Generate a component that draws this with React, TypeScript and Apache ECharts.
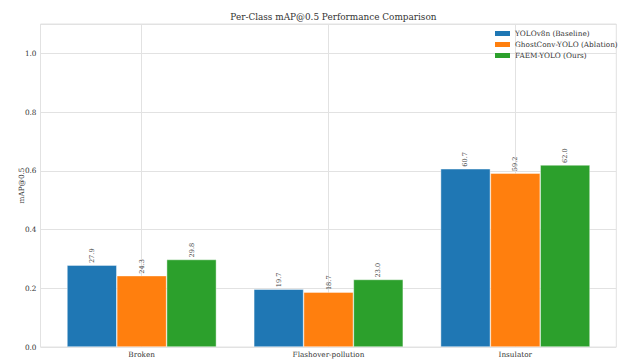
import React, { useEffect, useRef } from "react";
import * as echarts from "echarts";

const categories = ["Broken", "Flashover-pollution", "Insulator"];
const seriesNames = ["YOLOv8n (Baseline)", "GhostConv-YOLO (Ablation)", "FAEM-YOLO (Ours)"];
const baselineValues = [0.279, 0.197, 0.607];
const ghostConvValues = [0.243, 0.187, 0.592];
const faemValues = [0.298, 0.23, 0.62];
const seriesColors = ["#1f77b4", "#ff7f0e", "#2ca02c"];
const yMin = 0;
const yMax = 1.1;
const yInterval = 0.2;

const FONT = "DejaVu Serif";

export default function App() {
  const ref = useRef<HTMLDivElement>(null);
  useEffect(() => {
    if (!ref.current) return;
    const chart = echarts.init(ref.current, null, { renderer: "svg" });
    const allValues = [baselineValues, ghostConvValues, faemValues];
    const gridColor = "#e2e2e2";
    chart.setOption({
      animation: false,
      backgroundColor: "#ffffff",
      textStyle: { fontFamily: FONT },
      title: {
        text: "Per-Class mAP@0.5 Performance Comparison",
        left: 328.4,
        top: 7,
        textAlign: "center",
        textStyle: { fontFamily: FONT, fontSize: 8.9, fontWeight: "normal", color: "#333" },
      },
      legend: {
        orient: "vertical",
        left: 490,
        top: 24,
        itemWidth: 15,
        itemHeight: 5,
        itemGap: 2,
        icon: "rect",
        itemStyle: { borderWidth: 0 },
        textStyle: { fontFamily: FONT, fontSize: 7.3, lineHeight: 9, color: "#333", padding: 0 },
        data: seriesNames,
      },
      grid: [
        {
          left: 40.5,
          top: 24,
          width: 575.8,
          height: 323,
          show: true,
          borderColor: gridColor,
          borderWidth: 1,
          backgroundColor: "transparent",
        },
        { left: 48.3, top: 24, width: 560.4, height: 323 },
      ],
      xAxis: [
        { type: "value", gridIndex: 0, min: 0, max: 1, show: false },
        {
          type: "category",
          gridIndex: 1,
          data: categories,
          axisLine: { show: false },
          axisTick: { show: false },
          axisLabel: { fontFamily: FONT, fontSize: 7.3, color: "#333", margin: 4 },
          splitLine: { show: true, alignWithLabel: true, lineStyle: { color: gridColor, width: 1 } },
        },
      ],
      yAxis: [
        {
          type: "value",
          gridIndex: 0,
          min: yMin,
          max: yMax,
          interval: yInterval,
          name: "mAP@0.5",
          nameLocation: "middle",
          nameGap: 16,
          nameMoveOverlap: false,
          nameTextStyle: { fontFamily: FONT, fontSize: 7.3, color: "#333" },
          axisLine: { show: false },
          axisTick: { show: false },
          axisLabel: {
            fontFamily: FONT,
            fontSize: 7.3,
            color: "#333",
            margin: 4,
            showMaxLabel: false,
            formatter: (v: number) => v.toFixed(1),
          },
          splitLine: { show: true, lineStyle: { color: gridColor, width: 1 } },
        },
        { type: "value", gridIndex: 1, min: yMin, max: yMax, show: false },
      ],
      series: seriesNames.map((name, i) => ({
        name,
        type: "bar",
        xAxisIndex: 1,
        yAxisIndex: 1,
        data: allValues[i],
        barGap: "0%",
        barCategoryGap: "20%",
        itemStyle: { color: seriesColors[i], borderColor: "rgba(255,255,255,0.7)", borderWidth: 0.6 },
        label: {
          show: true,
          position: "top",
          rotate: 90,
          align: "left",
          verticalAlign: "middle",
          distance: 2,
          fontFamily: FONT,
          fontSize: 6.6,
          color: "#444",
          formatter: (p: any) => (p.value * 100).toFixed(1),
        },
      })),
    });
    return () => chart.dispose();
  }, []);
  return (
    <div
      ref={ref}
      style={{ position: "fixed", left: 0, top: 0, width: 627, height: 363, background: "#fff" }}
    />
  );
}
